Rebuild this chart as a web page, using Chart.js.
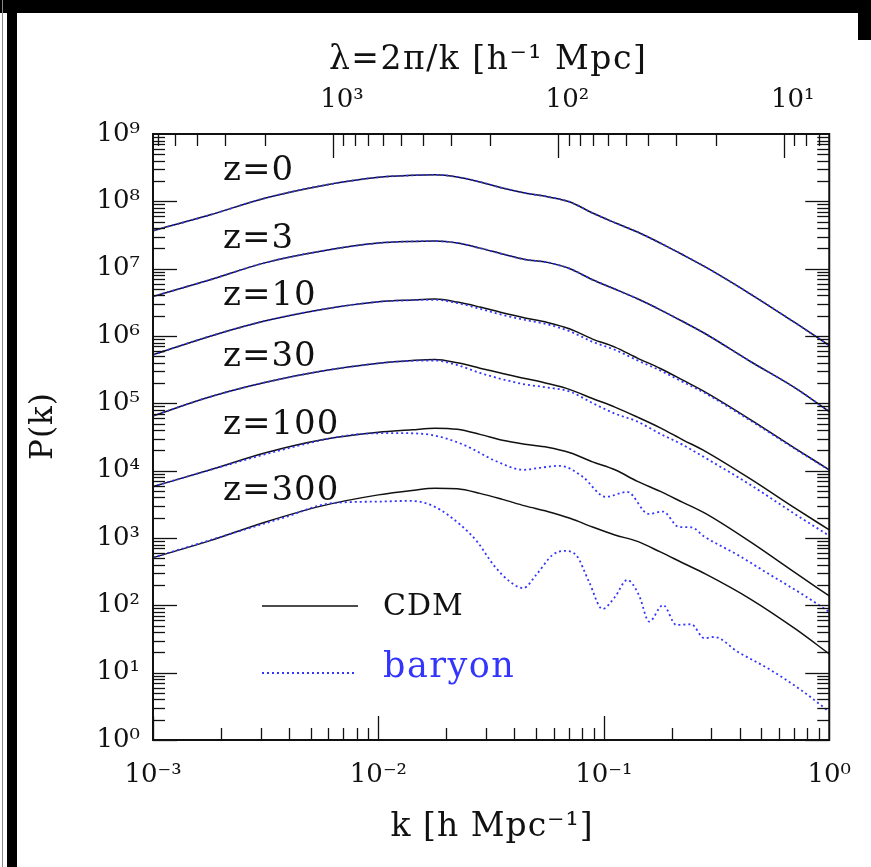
<!DOCTYPE html>
<html>
<head>
<meta charset="utf-8">
<script src="https://cdn.jsdelivr.net/npm/chart.js@4.4.0/dist/chart.umd.min.js"></script>
<style>
  html, body { margin: 0; padding: 0; background: #fff; }
  #wrap { position: relative; width: 871px; height: 867px; overflow: hidden; background: #fff; }
  #myChart { position: absolute; left: 0; top: 0; }
  .bar { position: absolute; background: #000; }
</style>
</head>
<body>
<div id="wrap">
  <canvas id="myChart" width="871" height="867"></canvas>
  <div class="bar" style="left:0;top:0;width:871px;height:13px"></div>
  <div class="bar" style="left:7px;top:0;width:10px;height:867px"></div>
  <div class="bar" style="left:2px;top:0;width:1px;height:867px;background:#888"></div>
  <div class="bar" style="left:858px;top:0;width:13px;height:40px"></div>
</div>
<script>
// k in h/Mpc, P(k)
const kGrid = [0.001, 0.00178, 0.00316, 0.00562, 0.01, 0.0141, 0.0178, 0.0224, 0.0282, 0.0355, 0.0447,
               0.0562, 0.0708, 0.0891, 0.112, 0.141, 0.178, 0.224, 0.282, 0.447, 0.708, 1];

const cdmZ0   = [3.66e7, 6.25e7, 1.12e8, 1.71e8, 2.27e8, 2.43e8, 2.48e8, 2.30e8, 1.94e8, 1.58e8, 1.33e8,
                 1.17e8, 9.77e7, 6.70e7, 4.81e7, 3.50e7, 2.40e7, 1.61e7, 1.06e7, 4.20e6, 1.56e6, 7.22e5];
const cdmZ3   = [3.86e6, 6.8e6, 1.23e7, 1.83e7, 2.40e7, 2.54e7, 2.57e7, 2.40e7, 2.02e7, 1.65e7, 1.37e7,
                 1.24e7, 9.97e6, 6.84e6, 4.98e6, 3.57e6, 2.45e6, 1.64e6, 1.08e6, 4.18e5, 1.68e5, 7.55e4];
const cdmZ10  = [5.26e5, 9.86e5, 1.68e6, 2.48e6, 3.22e6, 3.43e6, 3.53e6, 3.19e6, 2.69e6, 2.21e6, 1.85e6,
                 1.59e6, 1.27e6, 9.0e5, 6.84e5, 4.70e5, 3.29e5, 2.21e5, 1.47e5, 5.74e4, 2.13e4, 1.03e4];
const cdmZ30  = [6.52e4, 1.24e5, 2.05e5, 3.01e5, 3.93e5, 4.32e5, 4.48e5, 4.00e5, 3.33e5, 2.77e5, 2.34e5,
                 1.97e5, 1.60e5, 1.18e5, 8.79e4, 6.24e4, 4.32e4, 2.87e4, 1.94e4, 7.55e3, 2.75e3, 1.32e3];
const cdmZ100 = [5.80e3, 1.02e4, 1.84e4, 2.87e4, 3.71e4, 4.04e4, 4.28e4, 4.11e4, 3.46e4, 2.82e4, 2.46e4,
                 2.22e4, 1.84e4, 1.35e4, 1.03e4, 6.93e3, 4.92e3, 3.38e3, 2.32e3, 875, 303, 138];
const cdmZ300 = [511, 906, 1.73e3, 3.00e3, 4.37e3, 5.09e3, 5.49e3, 5.37e3, 4.60e3, 3.75e3, 3.00e3,
                 2.48e3, 1.96e3, 1.46e3, 1.11e3, 890, 621, 426, 293, 124, 44.6, 19.0];

const barZ0  = [3.66e7, 6.25e7, 1.12e8, 1.71e8, 2.27e8, 2.43e8, 2.48e8, 2.30e8, 1.94e8, 1.58e8, 1.33e8,
                1.17e8, 9.77e7, 6.70e7, 4.81e7, 3.50e7, 2.40e7, 1.61e7, 1.06e7, 4.20e6, 1.56e6, 7.22e5];
const barZ3  = [3.86e6, 6.8e6, 1.23e7, 1.83e7, 2.40e7, 2.54e7, 2.57e7, 2.40e7, 2.02e7, 1.65e7, 1.37e7,
                1.24e7, 9.97e6, 6.84e6, 4.98e6, 3.57e6, 2.45e6, 1.64e6, 1.08e6, 4.18e5, 1.68e5, 7.55e4];
const barZ10 = [5.26e5, 9.86e5, 1.68e6, 2.48e6, 3.22e6, 3.40e6, 3.45e6, 3.08e6, 2.54e6, 2.06e6, 1.73e6,
                1.49e6, 1.17e6, 8.2e5, 6.24e5, 4.34e5, 3.07e5, 2.08e5, 1.41e5, 5.55e4, 2.09e4, 1.02e4];
const barZ30 = [6.52e4, 1.24e5, 2.05e5, 3.01e5, 3.93e5, 4.28e5, 4.33e5, 3.70e5, 2.83e5, 2.28e5, 1.91e5,
                1.72e5, 1.49e5, 1.01e5, 7.03e4, 5.35e4, 3.52e4, 2.42e4, 1.55e4, 6.15e3, 2.24e3, 1.08e3];

const kBar100 = [0.001, 0.00191, 0.00374, 0.00735, 0.0122, 0.0171, 0.0239, 0.0335, 0.0439, 0.0537, 0.0640,
                 0.0804, 0.102, 0.127, 0.158, 0.183, 0.215, 0.245, 0.279, 0.392, 0.548, 0.767, 1];
const barZ100 = [5.80e3, 1.09e4, 2.04e4, 3.35e4, 3.61e4, 3.40e4, 2.42e4, 1.37e4, 1.03e4, 1.12e4, 1.18e4,
                 8.17e3, 4.08e3, 4.84e3, 2.28e3, 2.47e3, 1.46e3, 1.44e3, 1.05e3, 561, 283, 143, 80];

const kBar300 = [0.001, 0.00191, 0.00374, 0.00621, 0.00995, 0.0139, 0.0177, 0.0231, 0.0274, 0.0324, 0.0383,
                 0.0439, 0.0501, 0.0593, 0.0667, 0.0752, 0.0859, 0.0986, 0.112, 0.127, 0.143, 0.159, 0.183,
                 0.210, 0.244, 0.279, 0.309, 0.392, 0.548, 0.767, 1];
const barZ300 = [511, 993, 1.97e3, 3.29e3, 3.47e3, 3.56e3, 2.93e3, 1.57e3, 885, 398, 225,
                 180, 283, 561, 643, 561, 225, 88.4, 133, 238, 143, 57.3, 101,
                 51.1, 52.4, 32.5, 33.9, 20.5, 11.0, 5.22, 2.63];

const zNames = ['z=0', 'z=3', 'z=10', 'z=30', 'z=100', 'z=300'];
const kTicks = [1e-3, 1e-2, 1e-1, 1];
const lambdaTicks = [10, 100, 1000];
const pTicks = [1, 10, 100, 1e3, 1e4, 1e5, 1e6, 1e7, 1e8, 1e9];

const FONT = "'DejaVu Serif', serif";
const INK = '#111';
const BLUE = '#3434ff';

const SUP = {'-': '\u207B', '0': '\u2070', '1': '\u00B9', '2': '\u00B2', '3': '\u00B3', '4': '\u2074',
             '5': '\u2075', '6': '\u2076', '7': '\u2077', '8': '\u2078', '9': '\u2079'};
function pow10Label(v) {
    const e = String(Math.round(Math.log10(v)));
    return '10' + e.split('').map(c => SUP[c]).join('');
}

function pairs(ks, ps) {
    return ks.map((k, i) => ({x: k, y: ps[i]}));
}

const cdmSets = [cdmZ0, cdmZ3, cdmZ10, cdmZ30, cdmZ100, cdmZ300];
const barSets = [[kGrid, barZ0], [kGrid, barZ3], [kGrid, barZ10], [kGrid, barZ30], [kBar100, barZ100], [kBar300, barZ300]];

const datasets = [];
barSets.forEach((b, i) => {
    datasets.push({
        label: 'baryon ' + zNames[i],
        data: pairs(b[0], b[1]),
        borderColor: BLUE,
        borderWidth: 1.8,
        borderDash: [2, 3],
        pointRadius: 0,
        cubicInterpolationMode: 'monotone',
        order: 1
    });
});
cdmSets.forEach((c, i) => {
    datasets.push({
        label: 'CDM ' + zNames[i],
        data: pairs(kGrid, c),
        borderColor: INK,
        borderWidth: 1.5,
        pointRadius: 0,
        cubicInterpolationMode: 'monotone',
        order: 2
    });
});

// inward tick marks on all four sides + frame
const frameTicks = {
    id: 'frameTicks',
    afterDatasetsDraw(chart) {
        const {ctx, chartArea: a, scales} = chart;
        ctx.save();
        ctx.strokeStyle = INK;
        ctx.lineWidth = 1.3;
        const line = (x1, y1, x2, y2) => { ctx.beginPath(); ctx.moveTo(x1, y1); ctx.lineTo(x2, y2); ctx.stroke(); };
        const major = 24, minor = 12;
        for (let e = 0; e < 9; e++) {
            for (let m = 1; m <= 9; m++) {
                const py = Math.round(scales.y.getPixelForValue(m * Math.pow(10, e))) + 0.5;
                const len = m === 1 ? major : minor;
                line(a.left, py, a.left + len, py);
                line(a.right, py, a.right - len, py);
            }
        }
        for (let e = -3; e < 0; e++) {
            for (let m = 1; m <= 9; m++) {
                const px = Math.round(scales.x.getPixelForValue(m * Math.pow(10, e))) + 0.5;
                line(px, a.bottom, px, a.bottom - (m === 1 ? major : minor));
            }
        }
        for (let e = 0; e < 4; e++) {
            for (let m = 1; m <= 9; m++) {
                const v = m * Math.pow(10, e);
                if (v < scales.x2.min || v > scales.x2.max) continue;
                const px = Math.round(scales.x2.getPixelForValue(v)) + 0.5;
                line(px, a.top, px, a.top + (m === 1 ? major : minor));
            }
        }
        ctx.lineWidth = 2;
        ctx.strokeRect(a.left, a.top, a.right - a.left, a.bottom - a.top);
        ctx.restore();
    }
};

// axis titles, redshift labels and the line-style key
const annotations = {
    id: 'annotations',
    afterDraw(chart) {
        const {ctx, chartArea: a} = chart;
        const mid = (a.left + a.right) / 2;
        ctx.save();
        ctx.textBaseline = 'middle';
        ctx.fillStyle = INK;

        ctx.textAlign = 'center';
        ctx.font = '33px ' + FONT;
        ctx.letterSpacing = '1.5px';
        ctx.fillText('\u03BB=2\u03C0/k [h\u207B\u00B9 Mpc]', mid - 3, 60);
        ctx.letterSpacing = '1px';
        ctx.fillText('k [h Mpc\u207B\u00B9]', mid + 1, 827);
        ctx.save();
        ctx.translate(44, 426);
        ctx.rotate(-Math.PI / 2);
        ctx.font = '31px ' + FONT;
        ctx.fillText('P(k)', 0, 0);
        ctx.restore();

        ctx.textAlign = 'left';
        ctx.font = '34px ' + FONT;
        ctx.letterSpacing = '1px';
        const zY = [171, 239, 296, 357, 425, 491];
        zNames.forEach((t, i) => ctx.fillText(t, a.left + 70, zY[i]));

        ctx.strokeStyle = INK;
        ctx.lineWidth = 1.6;
        ctx.beginPath(); ctx.moveTo(a.left + 109, 606); ctx.lineTo(a.left + 205, 606); ctx.stroke();
        ctx.font = '30px ' + FONT;
        ctx.fillText('CDM', a.left + 230, 607);

        ctx.strokeStyle = BLUE;
        ctx.lineWidth = 1.8;
        ctx.setLineDash([2, 3]);
        ctx.beginPath(); ctx.moveTo(a.left + 109, 673); ctx.lineTo(a.left + 202, 673); ctx.stroke();
        ctx.setLineDash([]);
        ctx.font = '35px ' + FONT;
        ctx.letterSpacing = '1.5px';
        ctx.fillStyle = BLUE;
        ctx.fillText('baryon', a.left + 230, 668);
        ctx.restore();
    }
};

const tickFont = {family: FONT, size: 26};

var ctx = document.getElementById('myChart');
var chart = new Chart(ctx, {
    type: 'line',
    data: {datasets: datasets},
    options: {
        responsive: false,
        devicePixelRatio: 1,
        animation: false,
        events: [],
        layout: {padding: {left: 0, top: 0, right: 34, bottom: 0}},
        plugins: {legend: {display: false}, tooltip: {enabled: false}},
        scales: {
            x: {
                type: 'logarithmic', position: 'bottom', min: 1e-3, max: 1,
                grid: {display: false, drawTicks: false}, border: {display: false},
                afterBuildTicks: s => { s.ticks = kTicks.map(v => ({value: v})); },
                afterFit: s => { s.height = 127; },
                ticks: {callback: v => pow10Label(v), font: tickFont, color: INK, padding: 20,
                        maxRotation: 0, autoSkip: false}
            },
            x2: {
                type: 'logarithmic', position: 'top', reverse: true,
                min: 2 * Math.PI, max: 2000 * Math.PI,
                grid: {display: false, drawTicks: false}, border: {display: false},
                afterBuildTicks: s => { s.ticks = lambdaTicks.map(v => ({value: v})); },
                afterFit: s => { s.height = 134; },
                ticks: {callback: v => pow10Label(v), font: tickFont, color: INK, padding: 18,
                        labelOffset: 9, maxRotation: 0, autoSkip: false}
            },
            y: {
                type: 'logarithmic', position: 'left', min: 1, max: 1e9,
                grid: {display: false, drawTicks: false}, border: {display: false},
                afterBuildTicks: s => { s.ticks = pTicks.map(v => ({value: v})); },
                afterFit: s => { s.width = 153; },
                ticks: {callback: v => pow10Label(v), font: tickFont, color: INK, padding: 13, autoSkip: false}
            }
        }
    },
    plugins: [frameTicks, annotations]
});
</script>
</body>
</html>
